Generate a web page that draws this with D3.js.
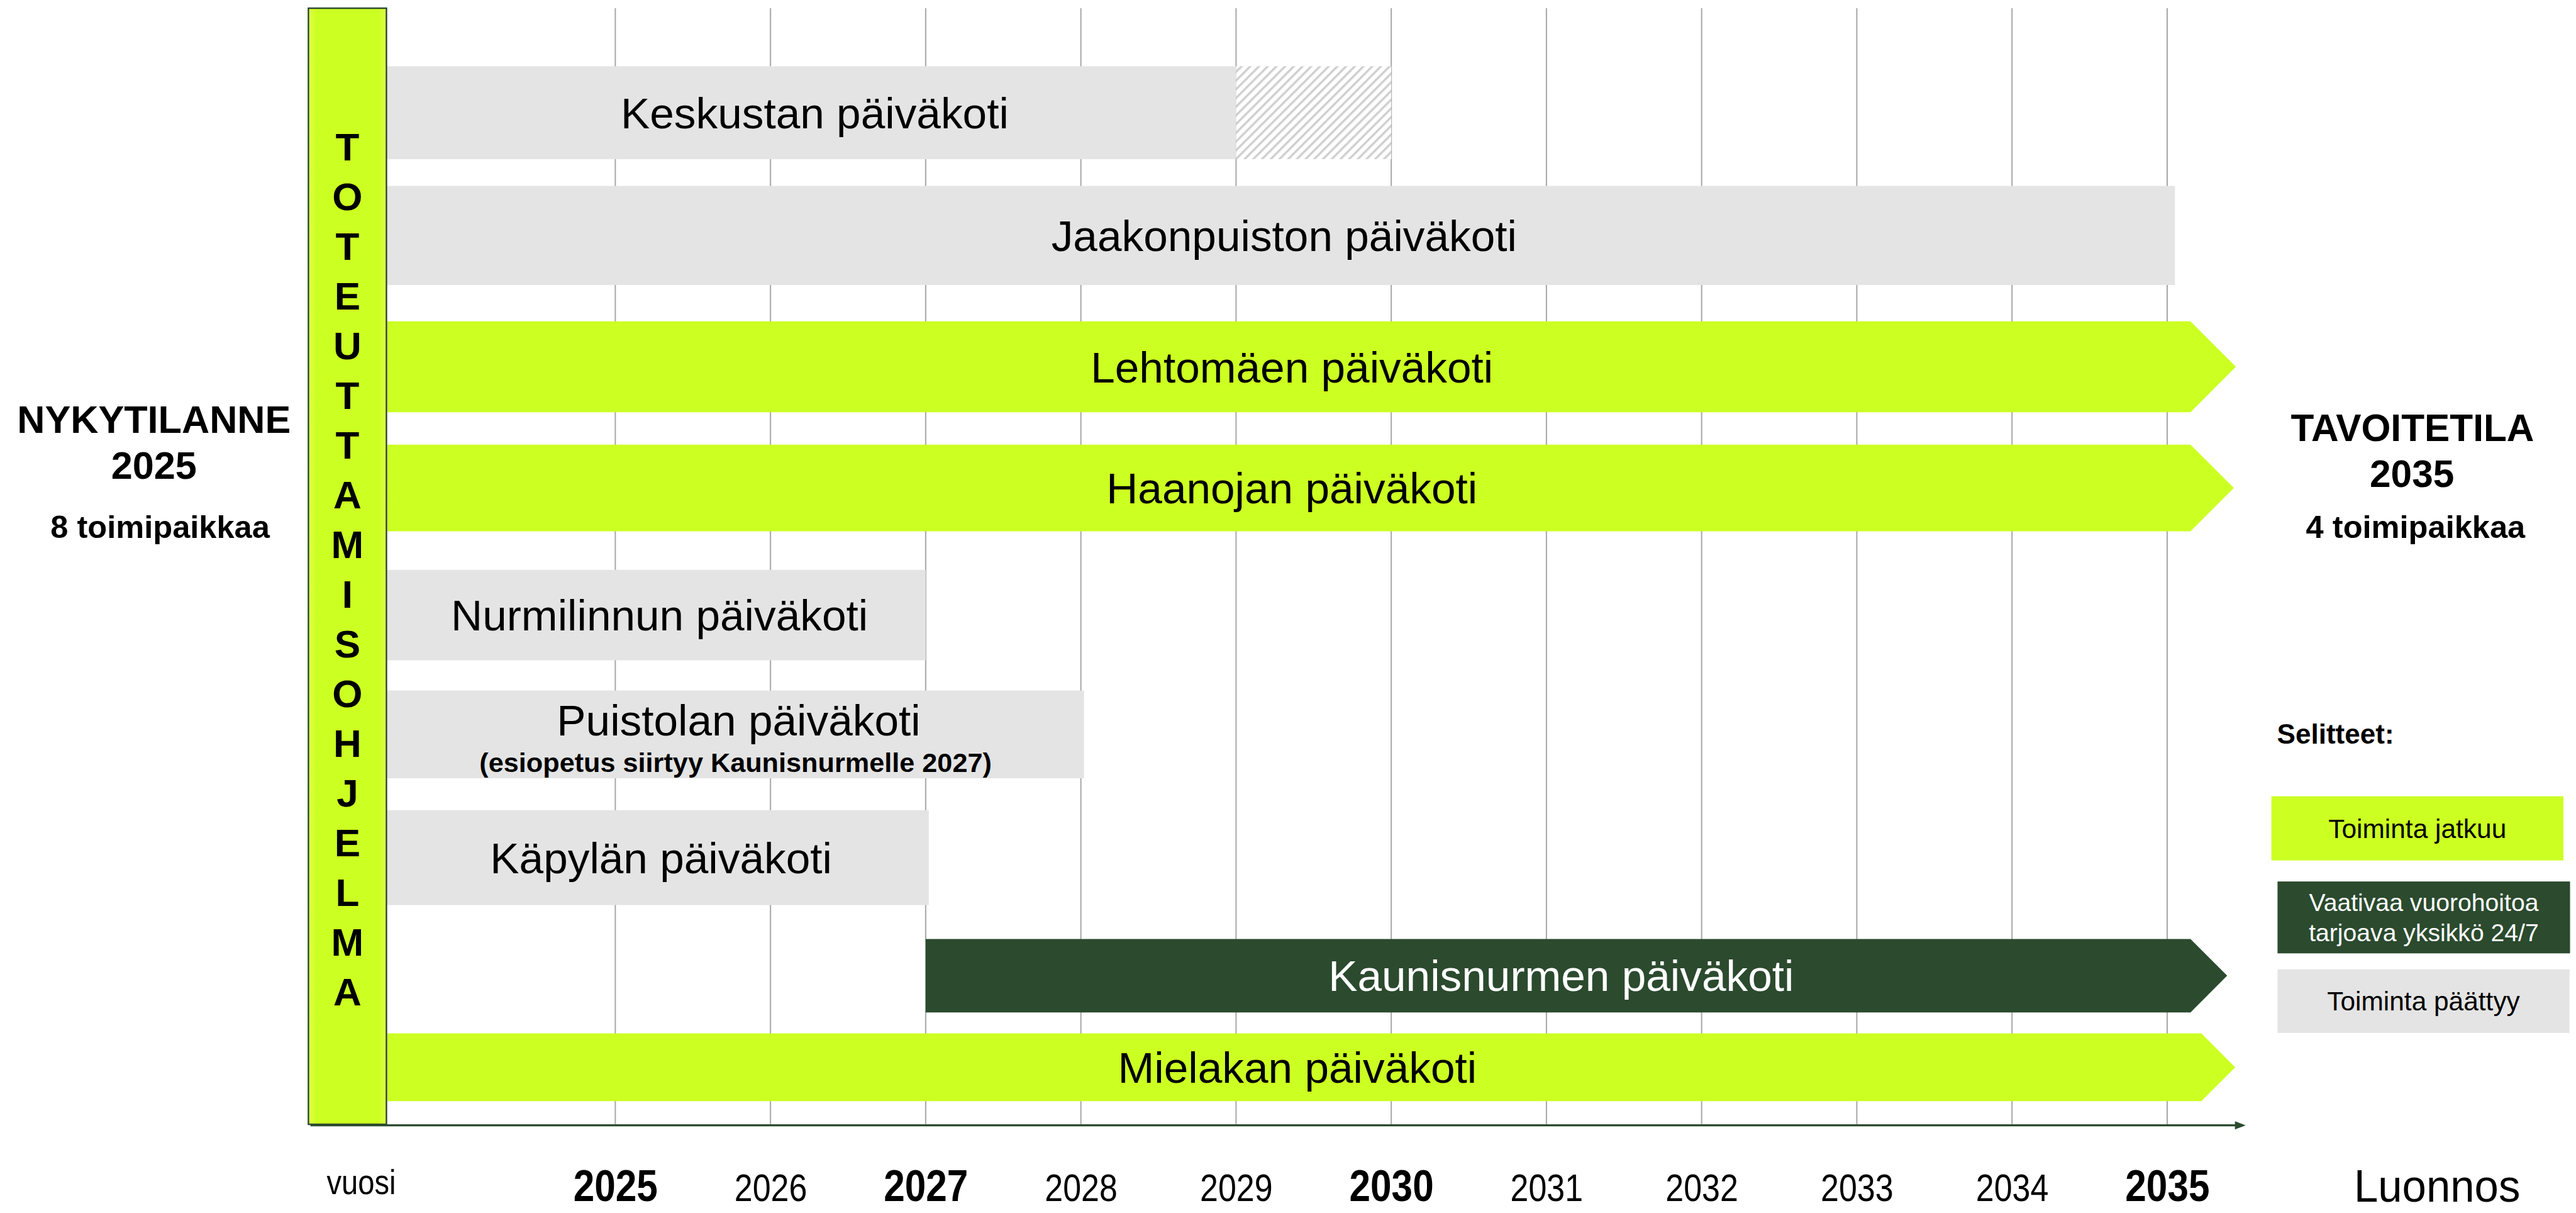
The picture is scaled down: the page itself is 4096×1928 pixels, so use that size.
<!DOCTYPE html>
<html>
<head>
<meta charset="utf-8">
<script src="https://cdn.jsdelivr.net/npm/d3@7"></script>
<style>
  body { margin: 0; background: #fff; }
  svg { display: block; }
  text { font-family: "Liberation Sans", Arial, sans-serif; }
</style>
</head>
<body>
<svg id="chart"></svg>
<script>

// DATA
var T0 = 2023.53;   // left edge of the timeline (units already running)

var units = ["Keskustan päiväkoti", "Jaakonpuiston päiväkoti", "Lehtomäen päiväkoti",
  "Haanojan päiväkoti", "Nurmilinnun päiväkoti", "Puistolan päiväkoti",
  "Käpylän päiväkoti", "Kaunisnurmen päiväkoti", "Mielakan päiväkoti"];
var unitStatus = ["paattyy", "paattyy", "jatkuu", "jatkuu", "paattyy", "paattyy",
  "paattyy", "vuoro", "jatkuu"];
var startYear = [T0, T0, T0, T0, T0, T0, T0, 2027, T0];
var endYear = [2029, 2035.05, 2035.15, 2035.15, 2027, 2028.02, 2027.02, 2035.15, 2035.22];
var uncertainEnd = [2030, null, null, null, null, null, null, null, null];
var notes = ["", "", "", "", "", "(esiopetus siirtyy Kaunisnurmelle 2027)", "", "", ""];

var years = [2025, 2026, 2027, 2028, 2029, 2030, 2031, 2032, 2033, 2034, 2035];
var boldYears = [2025, 2027, 2030, 2035];

var programme = "TOTEUTTAMISOHJELMA";
var leftTitle = ["NYKYTILANNE", "2025", "8 toimipaikkaa"];
var rightTitle = ["TAVOITETILA", "2035", "4 toimipaikkaa"];
var legendTitle = "Selitteet:";
var legendKeys = ["jatkuu", "vuoro", "paattyy"];
var legendLabels = [["Toiminta jatkuu"], ["Vaativaa vuorohoitoa", "tarjoava yksikkö 24/7"], ["Toiminta päättyy"]];

// LAYOUT (reference pixels, scaled down at the end)
var k = 0.816;
var rowTop = [129, 362, 626, 866, 1110, 1345, 1578, 1829, 2013];
var rowBot = [310, 555, 803, 1035, 1286, 1516, 1763, 1972, 2145];
var axisY = 2192;

var fill = { jatkuu: "#ccff22", vuoro: "#2b4a2e", paattyy: "#e4e4e4" };
var txt = { jatkuu: "#000", vuoro: "#fff", paattyy: "#000" };

var svg = d3.select("#chart")
  .attr("width", 4096)
  .attr("height", 1928);

var defs = svg.append("defs");
var hatch = defs.append("pattern")
  .attr("id", "hatch")
  .attr("patternUnits", "userSpaceOnUse")
  .attr("width", 12).attr("height", 12)
  .attr("patternTransform", "rotate(45)");
hatch.append("rect").attr("width", 12).attr("height", 12).attr("fill", "#fff");
hatch.append("line").attr("x1", 2).attr("x2", 2).attr("y1", 0).attr("y2", 12)
  .attr("stroke", "#cfcfcf").attr("stroke-width", 4.5);

var grad = defs.append("linearGradient").attr("id", "progGrad");
grad.append("stop").attr("offset", "0%").attr("stop-color", "#e2ff4a");
grad.append("stop").attr("offset", "10%").attr("stop-color", "#ccff22");
grad.append("stop").attr("offset", "90%").attr("stop-color", "#ccff22");
grad.append("stop").attr("offset", "100%").attr("stop-color", "#e2ff4a");

var g = svg.append("g").attr("transform", "scale(" + k + ")");

var x = d3.scaleLinear().domain([2025, 2035]).range([1199, 4223]);
var yTop = d3.scaleOrdinal(units, rowTop);
var yBot = d3.scaleOrdinal(units, rowBot);

var rows = units.map(function(u, i) {
  return { name: u, status: unitStatus[i], start: startYear[i], end: endYear[i],
    uncertain: uncertainEnd[i], note: notes[i] };
});

// squeeze a text horizontally (the reference uses a narrow face here)
function narrow(sel, f) {
  sel.each(function() {
    var w = this.getComputedTextLength();
    d3.select(this).attr("textLength", w * f).attr("lengthAdjust", "spacingAndGlyphs");
  });
}

// grid lines
g.append("g").selectAll("line")
  .data(years)
  .enter().append("line")
    .attr("x1", function(d) { return x(d); })
    .attr("x2", function(d) { return x(d); })
    .attr("y1", 16)
    .attr("y2", axisY)
    .attr("stroke", "#a8a8a8")
    .attr("stroke-width", 2.5);

// bars
var bars = g.append("g").selectAll("g")
  .data(rows)
  .enter().append("g");

bars.append("path")
  .attr("fill", function(d) { return fill[d.status]; })
  .attr("d", function(d) {
    var x0 = x(d.start), x1 = x(d.end), t = yTop(d.name), b = yBot(d.name);
    var m = (t + b) / 2;
    if (d.status === "paattyy") {
      return "M" + x0 + "," + t + "H" + x1 + "V" + b + "H" + x0 + "Z";
    }
    var tip = (b - t) / 2;
    return "M" + x0 + "," + t + "H" + x1 + "L" + (x1 + tip) + "," + m +
      "L" + x1 + "," + b + "H" + x0 + "Z";
  });

bars.filter(function(d) { return d.uncertain; })
  .append("rect")
    .attr("x", function(d) { return x(d.end); })
    .attr("y", function(d) { return yTop(d.name); })
    .attr("width", function(d) { return x(d.uncertain) - x(d.end); })
    .attr("height", function(d) { return yBot(d.name) - yTop(d.name); })
    .attr("fill", "url(#hatch)");

bars.append("text")
  .attr("x", function(d) { return (x(d.start) + x(d.end)) / 2 + 6; })
  .attr("y", function(d) {
    var m = (yTop(d.name) + yBot(d.name)) / 2;
    return d.note ? m + 2 : m + 30;
  })
  .attr("text-anchor", "middle")
  .attr("font-size", 85)
  .attr("fill", function(d) { return txt[d.status]; })
  .text(function(d) { return d.name; });

bars.filter(function(d) { return d.note; })
  .append("text")
    .attr("x", function(d) { return (x(d.start) + x(d.end)) / 2; })
    .attr("y", function(d) { return (yTop(d.name) + yBot(d.name)) / 2 + 73; })
    .attr("text-anchor", "middle")
    .attr("font-size", 53)
    .attr("font-weight", "bold")
    .text(function(d) { return d.note; });

// programme column
g.append("rect")
  .attr("x", 601).attr("y", 16)
  .attr("width", 152).attr("height", axisY - 18)
  .attr("fill", "url(#progGrad)")
  .attr("stroke", "#2b4a2e")
  .attr("stroke-width", 3);

g.append("g").selectAll("text")
  .data(programme.split(""))
  .enter().append("text")
    .attr("x", 677)
    .attr("y", function(d, i) { return 286 + i * 96.8 + 27; })
    .attr("text-anchor", "middle")
    .attr("font-size", 76)
    .attr("font-weight", "bold")
    .text(function(d) { return d; });

// time axis with arrow
g.append("line")
  .attr("x1", 605).attr("x2", 4360)
  .attr("y1", axisY).attr("y2", axisY)
  .attr("stroke", "#2b4a2e")
  .attr("stroke-width", 4);
g.append("path")
  .attr("d", "M4355," + (axisY - 8) + "L4376," + axisY + "L4355," + (axisY + 8) + "Z")
  .attr("fill", "#2b4a2e");

// year labels
var axisG = g.append("g")
  .attr("transform", "translate(0," + axisY + ")")
  .call(d3.axisBottom(x).tickValues(years).tickFormat(d3.format("d")).tickSize(0));
axisG.select(".domain").remove();
axisG.selectAll("text")
  .attr("dy", null)
  .attr("fill", "#000")
  .style("font-family", "'Liberation Sans', Arial, sans-serif")
  .attr("font-size", function(d) { return boldYears.indexOf(d) >= 0 ? 87 : 74; })
  .attr("font-weight", function(d) { return boldYears.indexOf(d) >= 0 ? "bold" : "normal"; })
  .attr("y", 148);
narrow(axisG.selectAll("text").filter(function(d) { return boldYears.indexOf(d) >= 0; }), 0.85);
narrow(axisG.selectAll("text").filter(function(d) { return boldYears.indexOf(d) < 0; }), 0.86);

g.append("text")
  .attr("x", 704).attr("y", 2326)
  .attr("text-anchor", "middle")
  .attr("font-size", 68)
  .text("vuosi")
  .call(narrow, 0.85);

g.append("text")
  .attr("x", 4749).attr("y", 2341)
  .attr("text-anchor", "middle")
  .attr("font-size", 88)
  .text("Luonnos")
  .call(narrow, 0.96);

// side titles
var leftY = [843, 933, 1048], leftX = [300, 300, 312], leftSize = [75, 75, 62];
var rightY = [859, 949, 1048], rightX = [4701, 4700, 4707], rightSize = [74, 74, 62];

g.append("g").selectAll("text")
  .data(leftTitle)
  .enter().append("text")
    .attr("x", function(d, i) { return leftX[i]; })
    .attr("y", function(d, i) { return leftY[i]; })
    .attr("text-anchor", "middle")
    .attr("font-weight", "bold")
    .attr("font-size", function(d, i) { return leftSize[i]; })
    .text(function(d) { return d; });

g.append("g").selectAll("text")
  .data(rightTitle)
  .enter().append("text")
    .attr("x", function(d, i) { return rightX[i]; })
    .attr("y", function(d, i) { return rightY[i]; })
    .attr("text-anchor", "middle")
    .attr("font-weight", "bold")
    .attr("font-size", function(d, i) { return rightSize[i]; })
    .text(function(d) { return d; });

// legend
g.append("text")
  .attr("x", 4437).attr("y", 1448)
  .attr("font-weight", "bold")
  .attr("font-size", 54)
  .text(legendTitle);

var boxX = [4426, 4438, 4438], boxW = [569, 570, 569];
var boxY = [1551, 1717, 1888], boxH = [125, 140, 124];
var lg = g.append("g").selectAll("g")
  .data(legendKeys)
  .enter().append("g");
lg.append("rect")
  .attr("x", function(d, i) { return boxX[i]; })
  .attr("y", function(d, i) { return boxY[i]; })
  .attr("width", function(d, i) { return boxW[i]; })
  .attr("height", function(d, i) { return boxH[i]; })
  .attr("fill", function(d) { return fill[d]; });
lg.each(function(d, i) {
  var lines = legendLabels[i];
  var cx = boxX[i] + boxW[i] / 2, cy = boxY[i] + boxH[i] / 2;
  var fs = lines.length > 1 ? 48 : 52;
  d3.select(this).selectAll("text")
    .data(lines)
    .enter().append("text")
      .attr("x", cx)
      .attr("y", function(l, j) { return cy + fs * 0.36 + (j - (lines.length - 1) / 2) * 59; })
      .attr("text-anchor", "middle")
      .attr("font-size", fs)
      .attr("fill", txt[d])
      .text(function(l) { return l; });
});

</script>
</body>
</html>
